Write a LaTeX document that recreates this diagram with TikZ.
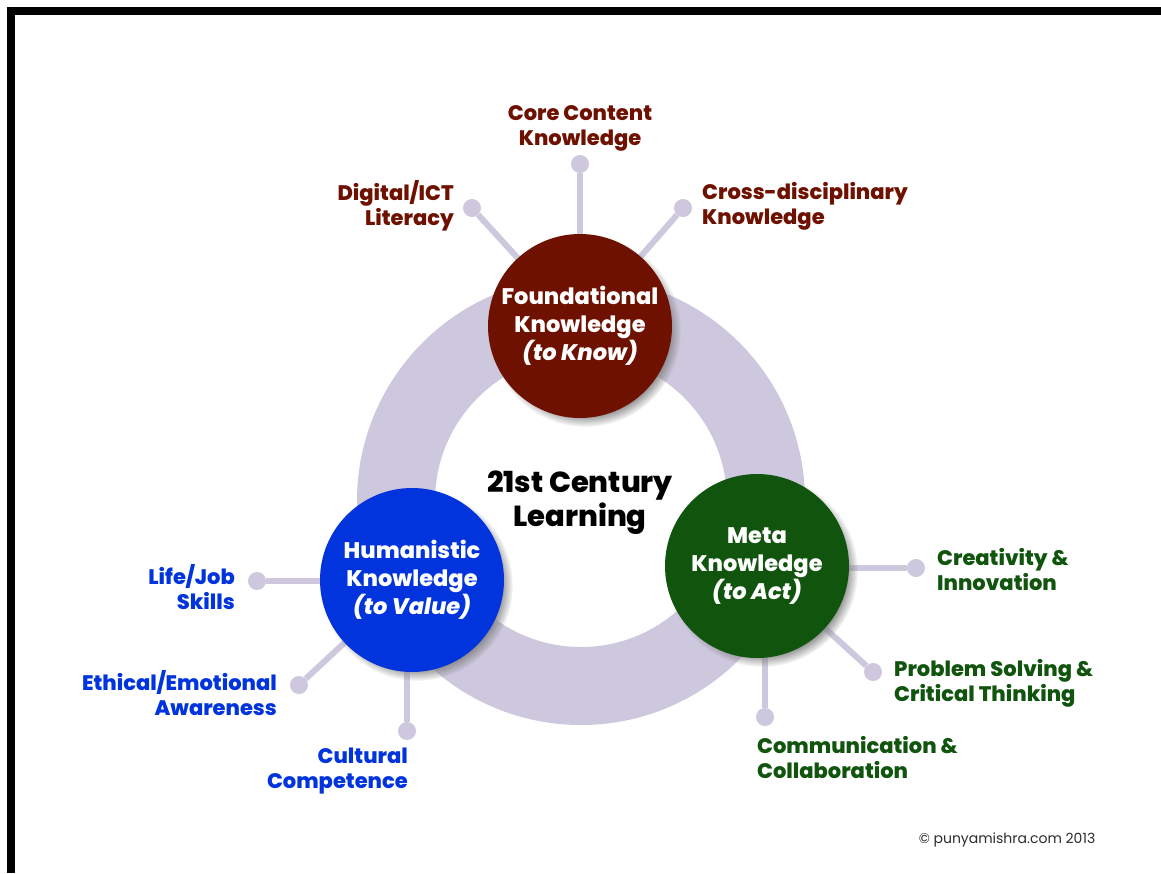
\documentclass[tikz,border=0pt]{standalone}
\usepackage{fontspec}
\setmainfont{Poppins}[BoldFont={* ExtraBold},BoldItalicFont={* ExtraBold Italic}]
\usepackage{xcolor}
\usetikzlibrary{shadows}
\definecolor{knowred}{RGB}{110,17,0}
\definecolor{valueblue}{RGB}{2,52,222}
\definecolor{actgreen}{RGB}{16,84,14}
\definecolor{ringgray}{RGB}{205,200,222}
\definecolor{notegray}{RGB}{45,45,45}

\begin{document}
\begin{tikzpicture}[x=1pt,y=-1pt,
  kcircle/.style={circle,minimum size=184pt,inner sep=0pt,text=white,align=center,
    font=\fontsize{22.5}{28}\selectfont\bfseries,
    circular drop shadow={shadow xshift=5pt,shadow yshift=-5pt,shadow scale=1.04}},
  tipdot/.style={circle,fill=ringgray,minimum size=18pt,inner sep=0pt},
  spoke/.style={draw=ringgray,line width=6pt},
  leaf/.style={align=#1,inner sep=0pt,font=\fontsize{21}{25}\selectfont\bfseries},
]
\useasboundingbox (0,0) rectangle (1161,873);
\fill[white] (0,0) rectangle (1161,873);
\fill[black] (7,7) rectangle (1161,15);
\fill[black] (7,7) rectangle (15,873);

\draw[ringgray,line width=78pt] (581,501) circle (185pt);

\coordinate (fc) at (580,326);
\coordinate (hc) at (412,580);
\coordinate (mc) at (757,566);

\node[tipdot] (core) at (580,164) {};
\node[tipdot] (ict) at (472,208) {};
\node[tipdot] (cross) at (683,208) {};
\node[tipdot] (life) at (257,581) {};
\node[tipdot] (ethic) at (299,685) {};
\node[tipdot] (cult) at (407,731) {};
\node[tipdot] (creat) at (916,568) {};
\node[tipdot] (prob) at (873,672) {};
\node[tipdot] (comm) at (765,717) {};

\draw[spoke] (core) -- (core |- fc);
\draw[spoke] (ict) -- (fc);
\draw[spoke] (cross) -- (fc);
\draw[spoke] (life) -- (life -| hc);
\draw[spoke] (ethic) -- (hc);
\draw[spoke] (cult) -- (cult |- hc);
\draw[spoke] (creat) -- (creat -| mc);
\draw[spoke] (prob) -- (mc);
\draw[spoke] (comm) -- (comm |- mc);

\node[kcircle,fill=knowred] (found) at (fc) {Foundational\\Knowledge\\\textit{(to Know)}};
\node[kcircle,fill=valueblue] (human) at (hc) {Humanistic\\Knowledge\\\textit{(to Value)}};
\node[kcircle,fill=actgreen] (meta) at (mc) {Meta\\Knowledge\\\textit{(to Act)}};

\node[align=center,font=\fontsize{29}{34}\selectfont\bfseries] (learn) at (580,503) {21st Century\\Learning};

\node[leaf=center,text=knowred] (coret) at (580,128) {Core Content\\Knowledge};
\node[leaf=right,text=knowred,anchor=east] (ictt) at (454,206) {Digital/ICT\\Literacy};
\node[leaf=left,text=knowred,anchor=west] (crosst) at (702,206) {Cross-disciplinary\\Knowledge};
\node[leaf=right,text=valueblue,anchor=east] (lifet) at (235,587) {Life/Job\\Skills};
\node[leaf=right,text=valueblue,anchor=east] (ethict) at (277,693) {Ethical/Emotional\\Awareness};
\node[leaf=right,text=valueblue,anchor=east] (cultt) at (408,771) {Cultural\\Competence};
\node[leaf=left,text=actgreen,anchor=west] (creatt) at (937,570) {Creativity \&\\Innovation};
\node[leaf=left,text=actgreen,anchor=west] (probt) at (894,683) {Problem Solving \&\\Critical Thinking};
\node[leaf=left,text=actgreen,anchor=west] (commt) at (757,758) {Communication \&\\Collaboration};

\node[font=\fontsize{14}{18}\selectfont,text=notegray] (note) at (1007,840) {\textcopyright{} punyamishra.com 2013};
\end{tikzpicture}
\end{document}
